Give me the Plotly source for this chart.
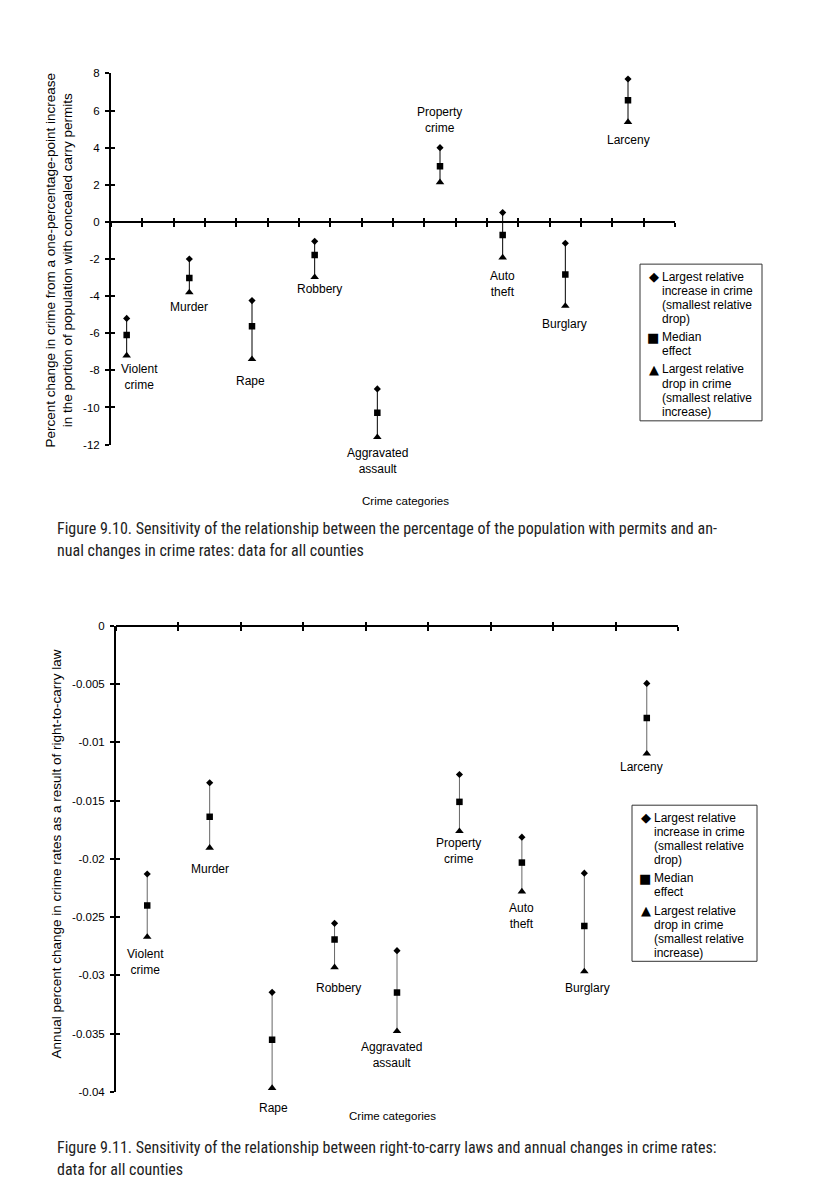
import plotly.graph_objects as go

PAGE_W, PAGE_H = 818, 1200
OFF = 8  # default body margin of the html page
W, H = PAGE_W - 2 * OFF, PAGE_H - 2 * OFF  # figure fits the window exactly

# ---------------- data ----------------
categories = ["Violent crime", "Murder", "Rape", "Robbery", "Aggravated assault",
              "Property crime", "Auto theft", "Burglary", "Larceny"]
cat_labels = ["Violent<br>crime", "Murder", "Rape", "Robbery", "Aggravated<br>assault",
              "Property<br>crime", "Auto<br>theft", "Burglary", "Larceny"]

# Figure 9.10 (percent change from one-percentage-point increase in permits)
permits_high = [-5.2, -2.0, -4.24, -1.05, -9.0, 4.0, 0.5, -1.15, 7.7]
permits_median = [-6.1, -3.03, -5.62, -1.79, -10.28, 3.0, -0.71, -2.84, 6.55]
permits_low = [-7.2, -3.8, -7.4, -2.98, -11.6, 2.13, -1.92, -4.53, 5.38]

# Figure 9.11 (annual percent change from right-to-carry law)
rtc_high = [-0.0213, -0.01347, -0.03145, -0.02553, -0.02788, -0.01276, -0.01814, -0.02123, -0.00495]
rtc_median = [-0.0240, -0.01639, -0.03552, -0.02692, -0.03147, -0.01511, -0.02032, -0.02576, -0.00792]
rtc_low = [-0.0267, -0.01905, -0.03966, -0.0293, -0.03479, -0.01763, -0.02281, -0.02966, -0.01098]

top_yticks = [8, 6, 4, 2, 0, -2, -4, -6, -8, -10, -12]
top_yticklabels = ["8", "6", "4", "2", "0", "-2", "-4", "-6", "-8", "-10", "-12"]
bot_yticks = [0, -0.005, -0.01, -0.015, -0.02, -0.025, -0.03, -0.035, -0.04]
bot_yticklabels = ["0", "-0.005", "-0.01", "-0.015", "-0.02", "-0.025", "-0.03", "-0.035", "-0.04"]

legend_glyphs = ["\u25c6", "\u25a0", "\u25b2"]
legend_lines = [["Largest relative", "increase in crime", "(smallest relative", "drop)"],
                ["Median", "effect"],
                ["Largest relative", "drop in crime", "(smallest relative", "increase)"]]

caption_1 = ["Figure 9.10. Sensitivity of the relationship between the percentage of the population with permits and an-",
             "nual changes in crime rates: data for all counties"]
caption_2 = ["Figure 9.11. Sensitivity of the relationship between right-to-carry laws and annual changes in crime rates:",
             "data for all counties"]

# ---------------- layout helpers ----------------
FONT = "Arial, 'Liberation Sans', sans-serif"
CAP_FONT = "'Roboto Condensed', 'DejaVu Sans Condensed', sans-serif"


def px(x):
    return (x - OFF) / W


def py(y):
    return 1 - (y - OFF) / H


n = len(categories)
top_x = [2 * i + 0.5 for i in range(n)]
bot_x = [i + 0.5 for i in range(n)]

# label placement: (anchor, dx px, dy px downward)
top_label_pos = [("low", 13, 21), ("low", 0, 15), ("low", -2, 22), ("low", 5, 12), ("low", 0, 24),
                 ("high", -1, -28), ("low", 0, 26), ("low", -1, 18), ("low", 0, 18)]
bot_label_pos = [("low", -2, 25), ("low", 0, 21), ("low", 1, 20), ("low", 4, 21), ("low", -6, 24),
                 ("low", -1, 20), ("low", 0, 24), ("low", 3, 17), ("low", -5, 13)]

fig = go.Figure()


def add_series(xs, hi, med, lo, xa, ya, barcolor):
    fig.add_trace(go.Scatter(
        x=xs, y=med, mode="markers", xaxis=xa, yaxis=ya,
        marker=dict(symbol="square", size=6.5, color="black"),
        error_y=dict(type="data", symmetric=False,
                     array=[h - m for h, m in zip(hi, med)],
                     arrayminus=[m - l for m, l in zip(med, lo)],
                     width=0, thickness=1, color=barcolor),
        name="Median effect", hoverinfo="skip"))
    fig.add_trace(go.Scatter(
        x=xs, y=hi, mode="markers", xaxis=xa, yaxis=ya,
        marker=dict(symbol="diamond", size=5.5, color="black"),
        name="Largest relative increase in crime", hoverinfo="skip"))
    fig.add_trace(go.Scatter(
        x=xs, y=lo, mode="markers", xaxis=xa, yaxis=ya,
        marker=dict(symbol="triangle-up", size=7.5, color="black"),
        name="Largest relative drop in crime", hoverinfo="skip"))


add_series(top_x, permits_high, permits_median, permits_low, "x", "y", "black")
add_series(bot_x, rtc_high, rtc_median, rtc_low, "x2", "y2", "#666")
# empty traces so the overlay axes (inside half of the crossing ticks) are drawn
for xa, ya in [("x3", "y3"), ("x4", "y4")]:
    fig.add_trace(go.Scatter(x=[], y=[], xaxis=xa, yaxis=ya, showlegend=False, hoverinfo="skip"))

top_xdom = [px(111), px(675)]
top_ydom = [py(443), py(68)]
top_yrange = [-12, 8]
top_zero = top_ydom[0] + (0 - top_yrange[0]) / (top_yrange[1] - top_yrange[0]) * (top_ydom[1] - top_ydom[0])

bot_xdom = [px(116), px(678)]
bot_ydom = [py(1097), py(626)]
bot_yrange = [-0.04, 0]
bot_zero = bot_ydom[1]

axis_common = dict(showgrid=False, zeroline=False, linecolor="black", tickcolor="black",
                   tickwidth=1.5, ticklen=4, fixedrange=True)

fig.update_layout(
    width=W, height=H, margin=dict(l=0, r=0, t=0, b=0),
    paper_bgcolor="white", plot_bgcolor="rgba(0,0,0,0)",
    showlegend=False, font=dict(family=FONT, color="black", size=12),
    xaxis=dict(domain=top_xdom, range=[0, 2 * n], anchor="free", position=top_zero,
               showline=True, linewidth=2, ticks="outside",
               tickvals=list(range(0, 2 * n + 1)), showticklabels=False, **axis_common),
    xaxis3=dict(domain=top_xdom, range=[0, 2 * n], anchor="free", position=top_zero,
                overlaying="x", showline=False, ticks="inside",
                tickvals=list(range(0, 2 * n + 1)), showticklabels=False, **axis_common),
    yaxis=dict(domain=top_ydom, range=top_yrange, anchor="x", showline=True, linewidth=2,
               ticks="outside", tickvals=top_yticks, ticktext=top_yticklabels,
               tickfont=dict(size=11.5), ticklabelstandoff=3, **axis_common),
    yaxis3=dict(domain=top_ydom, range=top_yrange, anchor="x3", overlaying="y", showline=False,
                ticks="inside", tickvals=top_yticks, showticklabels=False, **axis_common),
    xaxis2=dict(domain=bot_xdom, range=[0, n], anchor="free", position=bot_zero,
                showline=True, linewidth=2, ticks="outside",
                tickvals=list(range(0, n + 1)), showticklabels=False, **axis_common),
    xaxis4=dict(domain=bot_xdom, range=[0, n], anchor="free", position=bot_zero,
                overlaying="x2", showline=False, ticks="inside",
                tickvals=list(range(0, n + 1)), showticklabels=False, **axis_common),
    yaxis2=dict(domain=bot_ydom, range=bot_yrange, anchor="x2", showline=True, linewidth=2,
                ticks="outside", tickvals=bot_yticks, ticktext=bot_yticklabels,
                tickfont=dict(size=11.5), ticklabelstandoff=3, **axis_common),
    yaxis4=dict(domain=bot_ydom, range=bot_yrange, anchor="x4", overlaying="y2", showline=False,
                ticks="inside", tickvals=bot_yticks, showticklabels=False, **axis_common),
)

ann = []


def cat_annotations(xs, hi, lo, positions, xref, yref):
    for x, h, l, lab, (which, dx, dy) in zip(xs, hi, lo, cat_labels, positions):
        ann.append(dict(x=x, y=(l if which == "low" else h), xref=xref, yref=yref,
                        text=lab, showarrow=False, xanchor="center", yanchor="middle",
                        xshift=dx, yshift=-dy, font=dict(size=12, family=FONT)))


cat_annotations(top_x, permits_high, permits_low, top_label_pos, "x", "y")
cat_annotations(bot_x, rtc_high, rtc_low, bot_label_pos, "x2", "y2")

ann.append(dict(x=px(59), y=py(257), xref="paper", yref="paper", textangle=-90,
                text="Percent change in crime from a one-percentage-point increase<br>"
                     "in the portion of population with concealed carry permits",
                showarrow=False, xanchor="center", yanchor="middle", font=dict(size=13.5, family=FONT)))
ann.append(dict(x=px(405), y=py(500), xref="paper", yref="paper", text="Crime categories",
                showarrow=False, xanchor="center", yanchor="middle", font=dict(size=11.5, family=FONT)))
ann.append(dict(x=px(56), y=py(857), xref="paper", yref="paper", textangle=-90,
                text="Annual percent change in crime rates as a result of right-to-carry law",
                showarrow=False, xanchor="center", yanchor="middle", font=dict(size=13.5, family=FONT)))
ann.append(dict(x=px(392), y=py(1121), xref="paper", yref="paper", text="Crime categories",
                showarrow=False, xanchor="center", yanchor="middle", font=dict(size=11.5, family=FONT)))

shapes = []


def legend_box(left, top, right, bottom):
    shapes.append(dict(type="rect", xref="paper", yref="paper", x0=px(left), x1=px(right),
                       y0=py(bottom), y1=py(top), line=dict(color="#333", width=1)))
    yc = top + 12.6
    for glyph, lines in zip(legend_glyphs, legend_lines):
        ann.append(dict(x=px(left + 20.5), y=py(yc), xref="paper", yref="paper", text=glyph,
                        showarrow=False, xanchor="right", yanchor="middle",
                        font=dict(size=13, family="'DejaVu Sans', sans-serif")))
        for line in lines:
            ann.append(dict(x=px(left + 20), y=py(yc), xref="paper", yref="paper", text=line,
                            showarrow=False, xanchor="left", yanchor="middle",
                            font=dict(size=12, family=FONT)))
            yc += 14.3
        yc += 4.0


legend_box(640, 260.7, 762, 419)
legend_box(632, 807.3, 757, 965)

for lines, y0 in [(caption_1, 528), (caption_2, 1153)]:
    for i, line in enumerate(lines):
        ann.append(dict(x=px(55), y=py(y0 + 22 * i), xref="paper", yref="paper", text=line,
                        showarrow=False, xanchor="left", yanchor="middle",
                        font=dict(size=16, family=CAP_FONT, color="#222")))

fig.update_layout(annotations=ann, shapes=shapes)
fig.write_html("out.html")
